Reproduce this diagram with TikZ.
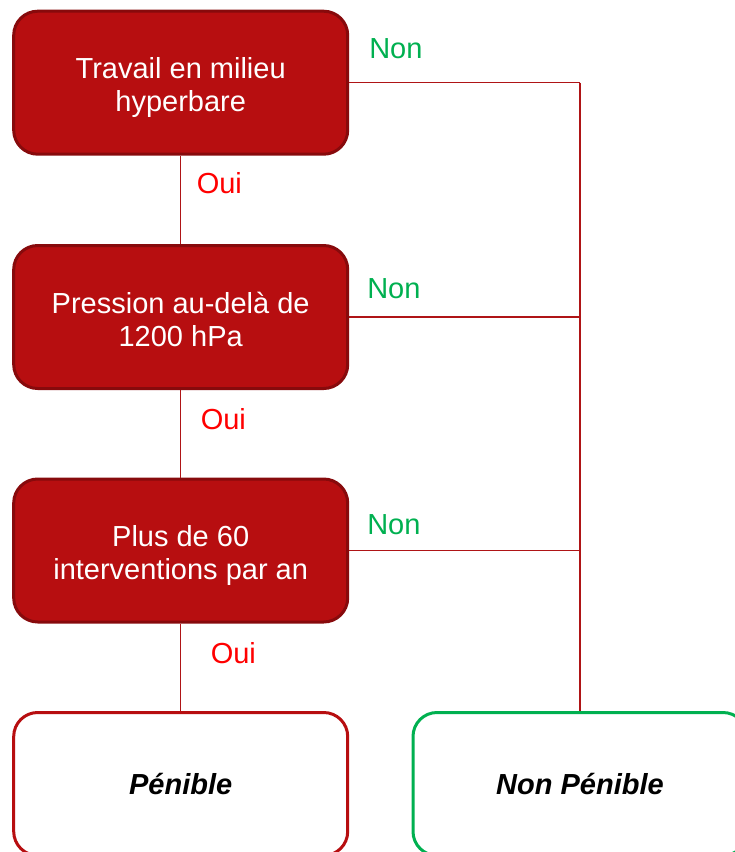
\documentclass[tikz,border=0pt]{standalone}
\usepackage{fontspec}
\setmainfont{Liberation Sans}
\definecolor{boxred}{RGB}{183,14,16}
\definecolor{boxedge}{RGB}{135,10,12}
\definecolor{linkred}{RGB}{175,20,22}
\definecolor{ouired}{RGB}{255,0,0}
\definecolor{nongreen}{RGB}{0,176,80}
\tikzset{
	question/.style={draw=boxedge, line width=3pt, fill=boxred, text=white, rounded corners=24pt,
		minimum width=334pt, minimum height=143pt, align=center, text height=58pt, text depth=0pt,
		font=\fontsize{29}{33}\selectfont},
	result/.style={line width=3pt, fill=white, rounded corners=24pt,
		minimum width=334pt, minimum height=143pt, font=\fontsize{29}{33}\selectfont\bfseries\itshape},
	link/.style={draw=linkred, line width=1.5pt},
	oui/.style={text=ouired, anchor=west, inner sep=3.3pt, font=\fontsize{29}{33}\selectfont},
	non/.style={text=nongreen, pos=0, anchor=south west, inner sep=3.3pt, font=\fontsize{29}{33}\selectfont}
}
\begin{document}
\begin{tikzpicture}[x=1pt, y=-1pt]
			\useasboundingbox (0,0) rectangle (735,852);

			\node[question] (q1) at (180.7,82.7) {Travail en milieu\\hyperbare};
			\node[question] (q2) at (180.7,317) {Pression au-delà de\\1200 hPa};
			\node[question] (q3) at (180.7,550.5) {Plus de 60\\interventions par an};

			\node[result, draw=boxred] (pen) at (180.7,784) {Pénible};
			\node[result, draw=nongreen] (nonpen) at (580,784) {Non Pénible};

			\coordinate (b1) at (q1.east -| nonpen.north);
			\coordinate (b2) at (q2.east -| nonpen.north);
			\coordinate (b3) at (q3.east -| nonpen.north);

			\path[link]
				(q1) edge node[oui, pos=0.315, xshift=12pt] {Oui} (q2)
				(q2) edge node[oui, pos=0.337, xshift=16pt] {Oui} (q3)
				(q3) edge node[oui, pos=0.343, xshift=26pt] {Oui} (pen);

			\path[link]
				(q1) edge node[non, xshift=16pt, yshift=20pt] {Non} (b1)
				(q2) edge node[non, xshift=14pt, yshift=13.7pt] {Non} (b2)
				(q3) edge node[non, xshift=14pt, yshift=12pt] {Non} (b3)
				(b1) edge (nonpen);
		\end{tikzpicture}
\end{document}
